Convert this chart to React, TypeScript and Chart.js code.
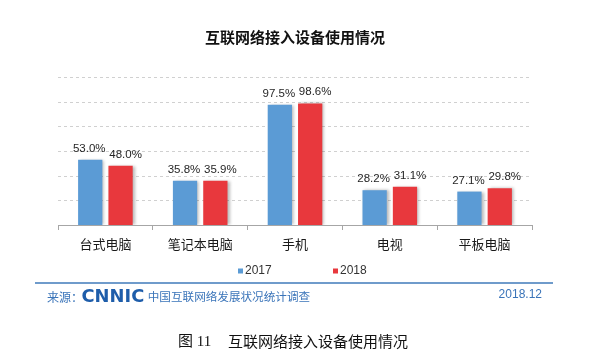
import React, { useEffect, useRef } from 'react';
import { Chart, registerables } from 'chart.js';

Chart.register(...registerables);

const chartTitle = '互联网络接入设备使用情况';
const categories = ['台式电脑', '笔记本电脑', '手机', '电视', '平板电脑'];
const seriesNames = ['2017', '2018'];
const values2017 = [53.0, 35.8, 97.5, 28.2, 27.1];
const values2018 = [48.0, 35.9, 98.6, 31.1, 29.8];
const seriesColors = ['#5B9BD5', '#E8383D'];
const labelShift = [-1, 5];
const yMin = 0;
const yMax = 120;
const yStep = 20;
const sourceLabel = '来源：';
const sourceLogo = 'CNNIC';
const sourceName = '中国互联网络发展状况统计调查';
const sourceDate = '2018.12';
const figureNo = '图 11';
const figureCaption = '互联网络接入设备使用情况';

const SANS = '"Liberation Sans", Arial, "Noto Sans CJK SC", sans-serif';
const CJK = '"Noto Sans CJK SC", "Noto Sans", sans-serif';

const dashedGrid = {
  id: 'dashedGrid',
  beforeDatasetsDraw(chart: any) {
    const ctx = chart.ctx;
    const area = chart.chartArea;
    const ys = chart.scales.y;
    ctx.save();
    ctx.strokeStyle = '#D0D0D0';
    ctx.lineWidth = 1;
    ctx.setLineDash([3, 3]);
    ys.ticks.forEach((t: any) => {
      if (t.value === 0) return;
      const y = Math.round(ys.getPixelForValue(t.value)) + 0.5;
      ctx.beginPath();
      ctx.moveTo(area.left, y);
      ctx.lineTo(area.right, y);
      ctx.stroke();
    });
    ctx.restore();
  },
};

const barDecor = {
  id: 'barDecor',
  beforeDatasetsDraw(chart: any) {
    const ctx = chart.ctx;
    ctx.save();
    ctx.shadowColor = 'rgba(0,0,0,0.28)';
    ctx.shadowBlur = 3;
    ctx.shadowOffsetX = 2;
    ctx.shadowOffsetY = 0;
  },
  afterDatasetsDraw(chart: any) {
    const ctx = chart.ctx;
    ctx.restore();
    ctx.save();
    ctx.font = '11.5px ' + SANS;
    ctx.fillStyle = '#262626';
    ctx.textAlign = 'center';
    ctx.textBaseline = 'alphabetic';
    chart.data.datasets.forEach((ds: any, i: number) => {
      const meta = chart.getDatasetMeta(i);
      meta.data.forEach((el: any, j: number) => {
        const v = ds.data[j] as number;
        ctx.fillText(v.toFixed(1) + '%', el.x + labelShift[i], el.y - 8);
      });
    });
    ctx.restore();
  },
};

const customLegend = {
  id: 'customLegend',
  afterDraw(chart: any) {
    const ctx = chart.ctx;
    const area = chart.chartArea;
    const cx = (area.left + area.right) / 2;
    const y = 271;
    const pitch = 95;
    const startX = cx - 57;
    ctx.save();
    ctx.font = '12px ' + SANS;
    ctx.textAlign = 'left';
    ctx.textBaseline = 'middle';
    chart.data.datasets.forEach((ds: any, i: number) => {
      const x = startX + i * pitch;
      ctx.fillStyle = ds.backgroundColor;
      ctx.fillRect(x, y - 2.5, 5, 5);
      ctx.fillStyle = '#333333';
      ctx.fillText(ds.label, x + 7, y);
    });
    ctx.restore();
  },
};

export default function App() {
  const canvasRef = useRef<HTMLCanvasElement | null>(null);

  useEffect(() => {
    if (!canvasRef.current) return;
    const chart = new Chart(canvasRef.current, {
      type: 'bar',
      data: {
        labels: categories,
        datasets: [
          {
            label: seriesNames[0],
            data: values2017,
            backgroundColor: seriesColors[0],
            categoryPercentage: 0.64,
            barPercentage: 0.8,
          },
          {
            label: seriesNames[1],
            data: values2018,
            backgroundColor: seriesColors[1],
            categoryPercentage: 0.64,
            barPercentage: 0.8,
          },
        ],
      },
      options: {
        responsive: false,
        animation: false,
        events: [],
        layout: { padding: { left: 58, right: 68, top: 0, bottom: 104.4 } },
        plugins: {
          legend: { display: false },
          tooltip: { enabled: false },
          title: {
            display: true,
            text: chartTitle,
            color: '#111111',
            font: { family: CJK, size: 15, weight: 'bold', lineHeight: 1.2 },
            padding: { top: 28, bottom: 31 },
          },
        },
        scales: {
          x: {
            grid: {
              display: true,
              drawOnChartArea: false,
              drawTicks: true,
              tickLength: 5,
              color: '#A6A6A6',
              tickColor: '#A6A6A6',
              offset: true,
            },
            border: { display: true, color: '#A6A6A6', width: 1 },
            ticks: {
              color: '#1a1a1a',
              padding: 6,
              font: { family: CJK, size: 13, lineHeight: 1.2 },
              maxRotation: 0,
              autoSkip: false,
            },
          },
          y: {
            min: yMin,
            max: yMax,
            ticks: { display: false, stepSize: yStep },
            grid: { display: false, drawTicks: false },
            border: { display: false },
          },
        },
      },
      plugins: [dashedGrid, barDecor, customLegend],
    });
    return () => chart.destroy();
  }, []);

  const blue = '#3A74B9';
  return (
    <div style={{ position: 'absolute', left: 0, top: 0, width: 600, height: 362, background: '#ffffff', overflow: 'hidden' }}>
      <canvas ref={canvasRef} width={600} height={362} style={{ position: 'absolute', left: 0, top: 0, width: 600, height: 362 }} />
      <div style={{ position: 'absolute', left: 35, top: 282, width: 518, height: 2, background: '#6F9BCB' }} />
      <div style={{ position: 'absolute', left: 47, top: 286, height: 20, display: 'flex', alignItems: 'center', fontFamily: CJK, fontSize: 12, color: blue, whiteSpace: 'nowrap' }}>
        <span>{sourceLabel}</span>
        <span style={{ fontFamily: '"DejaVu Sans", sans-serif', fontWeight: 900, fontSize: 17, color: '#1E5DAA', letterSpacing: 0, margin: '0 5px 0 0', lineHeight: '20px', transform: 'scaleX(1.05)', display: 'inline-block' }}>{sourceLogo}</span>
        <span style={{ fontSize: 11.6 }}>{sourceName}</span>
      </div>
      <div style={{ position: 'absolute', right: 58, top: 286, height: 16, lineHeight: '16px', fontFamily: SANS, fontSize: 12, color: blue }}>{sourceDate}</div>
      <div style={{ position: 'absolute', left: 178, top: 331, height: 20, lineHeight: '20px', fontFamily: '"Liberation Serif", "Noto Sans CJK SC", serif', fontSize: 15, color: '#111', whiteSpace: 'nowrap' }}>
        <span>{figureNo}</span>
        <span style={{ position: 'absolute', left: 50, fontFamily: CJK }}>{figureCaption}</span>
      </div>
    </div>
  );
}
